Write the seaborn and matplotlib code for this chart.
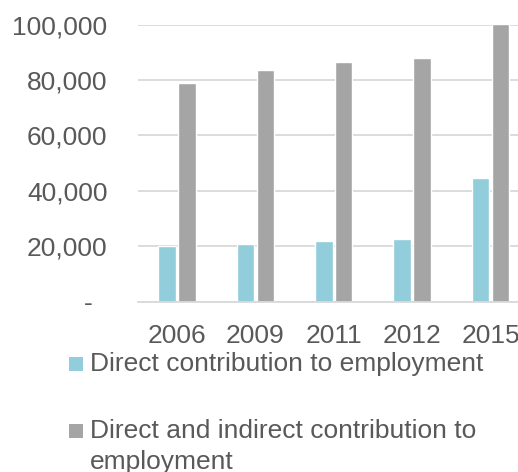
import matplotlib
matplotlib.use("Agg")
import matplotlib.pyplot as plt
from matplotlib.patches import Rectangle
from matplotlib.ticker import FuncFormatter
import pandas as pd
import seaborn as sns

years = ["2006", "2009", "2011", "2012", "2015"]
direct = [20000, 21000, 21800, 22600, 44600]
direct_indirect = [79000, 83600, 86600, 88100, 100300]
series_labels = ["Direct contribution to employment",
                 "Direct and indirect contribution to employment"]
legend_lines = [["Direct contribution to employment"],
                ["Direct and indirect contribution to", "employment"]]
colors = ["#92CDDC", "#A5A5A5"]

df = pd.DataFrame({
    "year": years * 2,
    "jobs": direct + direct_indirect,
    "series": [series_labels[0]] * len(years) + [series_labels[1]] * len(years),
})

sns.set_theme(style="white")
plt.rcParams["font.family"] = ["Liberation Sans", "DejaVu Sans"]
text_color = "#595959"
grid_color = "#D9D9D9"
fs = 19

W, H = 518, 472
fig = plt.figure(figsize=(W / 100, H / 100), dpi=100)
ax = fig.add_axes([138 / W, (H - 301.7) / H, (529.6 - 138) / W, (301.7 - 24.7) / H])

sns.barplot(data=df, x="year", y="jobs", hue="series", order=years,
            hue_order=series_labels, palette=colors, width=0.507, gap=0.12,
            saturation=1, legend=False, ax=ax)

ax.set_ylim(0, 100000)
ax.set_yticks(range(0, 100001, 20000))
ax.yaxis.set_major_formatter(FuncFormatter(lambda v, p: "-  " if v == 0 else f"{int(v):,}"))
ax.set_xlabel("")
ax.set_ylabel("")
ax.grid(axis="y", color=grid_color, linewidth=1.3)
ax.set_axisbelow(True)
for s in ["top", "right", "left"]:
    ax.spines[s].set_visible(False)
ax.spines["bottom"].set_color(grid_color)
ax.spines["bottom"].set_linewidth(1.3)
ax.tick_params(axis="both", length=0, labelsize=fs, labelcolor=text_color)
ax.tick_params(axis="y", pad=22)
ax.tick_params(axis="x", pad=16)

# legend entries, stacked below the axis: swatch beside the first line of each label
line_centres = [[364], [431, 462]]
for lines, col, ys in zip(legend_lines, colors, line_centres):
    fig.patches.append(Rectangle((69 / W, (H - ys[0] - 7) / H), 14 / W, 14 / H,
                                 transform=fig.transFigure, facecolor=col,
                                 edgecolor="none"))
    for txt, yc in zip(lines, ys):
        fig.text(90 / W, (H - yc) / H, txt, fontsize=fs, color=text_color,
                 ha="left", va="center")

fig.savefig("out.png", dpi=100)
